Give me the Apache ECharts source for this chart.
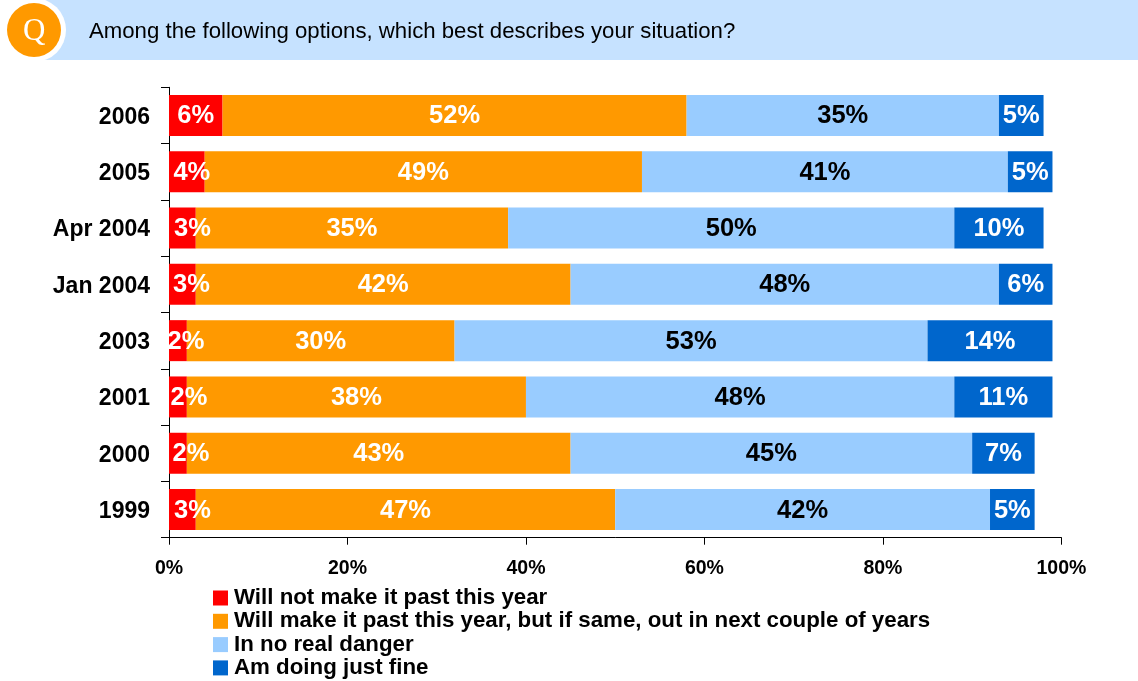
<!DOCTYPE html>
<html>
<head>
<meta charset="utf-8">
<style>html,body{margin:0;padding:0;background:#fff}#chart{width:1138px;height:681px}</style>
<script src="https://cdn.jsdelivr.net/npm/echarts@6/dist/echarts.min.js"></script>
</head>
<body>
<div id="chart"></div>
<script>
const categories = ['2006', '2005', 'Apr 2004', 'Jan 2004', '2003', '2001', '2000', '1999'];
const willNotMakeIt = [6, 4, 3, 3, 2, 2, 2, 3];
const willMakeItThisYear = [52, 49, 35, 42, 30, 38, 43, 47];
const noRealDanger = [35, 41, 50, 48, 53, 48, 45, 42];
const doingJustFine = [5, 5, 10, 6, 14, 11, 7, 5];
const tickLabels = ['0%', '20%', '40%', '60%', '80%', '100%'];
const question = 'Among the following options, which best describes your situation?';

// Narrow red segments push their labels rightwards so they stay legible.
const redLabelShift = [0, 5, 10, 9, 8, 11, 13, 10];

const FONT = '"Liberation Sans", Arial, sans-serif';

function stacked(name, values, color, labelColor, shifts) {
  return {
    name,
    type: 'bar',
    stack: 'share',
    barWidth: 41,
    itemStyle: { color },
    data: values.map((value, i) => ({
      value,
      label: { offset: [shifts ? shifts[i] : 0, 1] }
    })),
    label: {
      show: true,
      position: 'inside',
      formatter: '{c}%',
      color: labelColor,
      fontFamily: FONT,
      fontWeight: 'bold',
      fontSize: 25.5
    }
  };
}

const chart = echarts.init(document.getElementById('chart'));
chart.setOption({
  animation: false,
  backgroundColor: '#fff',
  grid: { left: 169, top: 87.3, width: 892.4, height: 450.4 },
  legend: {
    orient: 'vertical',
    left: 213,
    top: 587,
    itemWidth: 15,
    itemHeight: 15,
    itemGap: 1.3,
    padding: 0,
    icon: 'rect',
    selectedMode: false,
    textStyle: {
      fontFamily: FONT,
      fontWeight: 'bold',
      fontSize: 22.3,
      lineHeight: 22,
      color: '#000',
      padding: [0, 0, 0, 1]
    }
  },
  xAxis: {
    type: 'value',
    min: 0,
    max: 100,
    interval: 20,
    splitLine: { show: false },
    axisLine: { show: true, lineStyle: { color: '#000', width: 1 } },
    axisTick: { show: true, length: 7, lineStyle: { color: '#000' } },
    axisLabel: {
      margin: 21,
      color: '#000',
      fontFamily: FONT,
      fontWeight: 'bold',
      fontSize: 19.5,
      formatter: (v) => tickLabels[v / 20]
    }
  },
  yAxis: {
    type: 'category',
    inverse: true,
    data: categories,
    axisLine: { show: true, lineStyle: { color: '#000', width: 1 } },
    axisTick: { show: true, length: 8, alignWithLabel: false, lineStyle: { color: '#000' } },
    axisLabel: {
      margin: 19,
      formatter: '{year|{value}}',
      rich: {
        year: {
          color: '#000',
          fontFamily: FONT,
          fontWeight: 'bold',
          fontSize: 23,
          padding: [4, 0, 0, 0]
        }
      }
    }
  },
  series: [
    stacked('Will not make it past this year', willNotMakeIt, '#FF0000', '#fff', redLabelShift),
    stacked('Will make it past this year, but if same, out in next couple of years', willMakeItThisYear, '#FF9900', '#fff'),
    stacked('In no real danger', noRealDanger, '#99CCFF', '#000'),
    stacked('Am doing just fine', doingJustFine, '#0066CC', '#fff')
  ],
  graphic: [
    { type: 'rect', silent: true, z: 1, shape: { x: 34, y: 0, width: 1104, height: 60 }, style: { fill: '#C6E2FF' } },
    { type: 'circle', silent: true, z: 2, shape: { cx: 34, cy: 30, r: 32 }, style: { fill: '#fff' } },
    { type: 'circle', silent: true, z: 3, shape: { cx: 34, cy: 30, r: 27 }, style: { fill: '#FF9900' } },
    {
      type: 'text', silent: true, z: 4, left: 23, top: 16,
      style: { text: 'Q', fill: '#fff', font: '31px "Liberation Serif", serif' }
    },
    {
      type: 'text', silent: true, z: 4, left: 89, top: 21,
      style: { text: question, fill: '#000', font: '22.2px "Liberation Sans", Arial, sans-serif' }
    }
  ]
});
</script>
</body>
</html>
